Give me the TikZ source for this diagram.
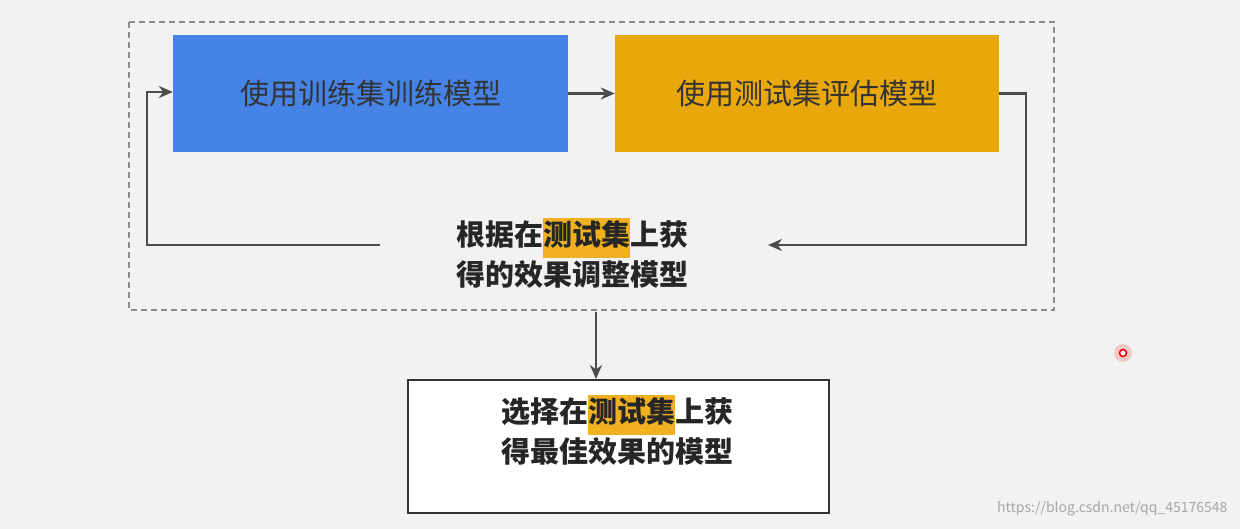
\documentclass[tikz,border=0pt]{standalone}
\usepackage{fontspec}
\setmainfont{Noto Sans CJK SC}
\usetikzlibrary{arrows.meta}
\definecolor{bg}{HTML}{F2F2F2}
\definecolor{bluebox}{HTML}{4583E6}
\definecolor{orangebox}{HTML}{E8A80C}
\definecolor{hl}{HTML}{F0B020}
\definecolor{txt}{HTML}{333333}
\newcommand{\hlt}[1]{{\setlength{\fboxsep}{0pt}\colorbox{hl}{\strut #1}}}
\tikzset{
  conn/.style={draw=black!70, line width=2.5pt, -{Stealth[length=14pt,width=12pt]}},
  fillbox/.style={minimum width=#1, minimum height=117pt, inner sep=0pt, font=\fontsize{29}{34}\selectfont, text=txt},
}
\begin{document}
\begin{tikzpicture}[x=1pt,y=-1pt]
\fill[bg] (0,0) rectangle (1240,529);
\useasboundingbox (0,0) rectangle (1240,529);
\draw[black!45, line width=1.5pt, dash pattern=on 6pt off 4pt] (129,22) rectangle (1054,310);
\node[fillbox=395pt, fill=bluebox] (train) at (370.5,93.5) {使用训练集训练模型};
\node[fillbox=384pt, fill=orangebox] (test) at (807,93.5) {使用测试集评估模型};
\node[align=center, font=\fontsize{29}{40}\selectfont\bfseries, text=black!85, inner sep=0pt] (adjust) at (572,253) {根据在\hlt{测试集}上获\\得的效果调整模型};
\coordinate (inR) at (768,245);
\coordinate (outL) at (380,245);
\node[draw=black!80, line width=2pt, fill=white, minimum width=421pt, minimum height=133pt, inner sep=0pt] (best) at (618.5,446.5) {};
\node[align=center, font=\fontsize{29}{40}\selectfont\bfseries, text=black!85, inner sep=0pt] (besttxt) at (617,430) {选择在\hlt{测试集}上获\\得最佳效果的模型};
\coordinate (dashbot) at (596,312);
\draw[conn] (train.east) -- (test.west);
\draw[conn] (test.east) -- ++(27,0) |- (inR);
\draw[conn] (outL) -- (147,245) |- ([yshift=1.5pt]train.west);
\draw[conn] (dashbot) -- (best.north -| dashbot);
\fill[red!70, opacity=0.25] (1123,353) circle (9pt);
\draw[red!90!black, line width=1.5pt, fill=white] (1123,353) circle (3.5pt);
\node[anchor=east, text=black!35, font=\fontsize{14}{16}\selectfont] (wm) at (1231,509) {https://blog.csdn.net/qq\_45176548};
\end{tikzpicture}
\end{document}
